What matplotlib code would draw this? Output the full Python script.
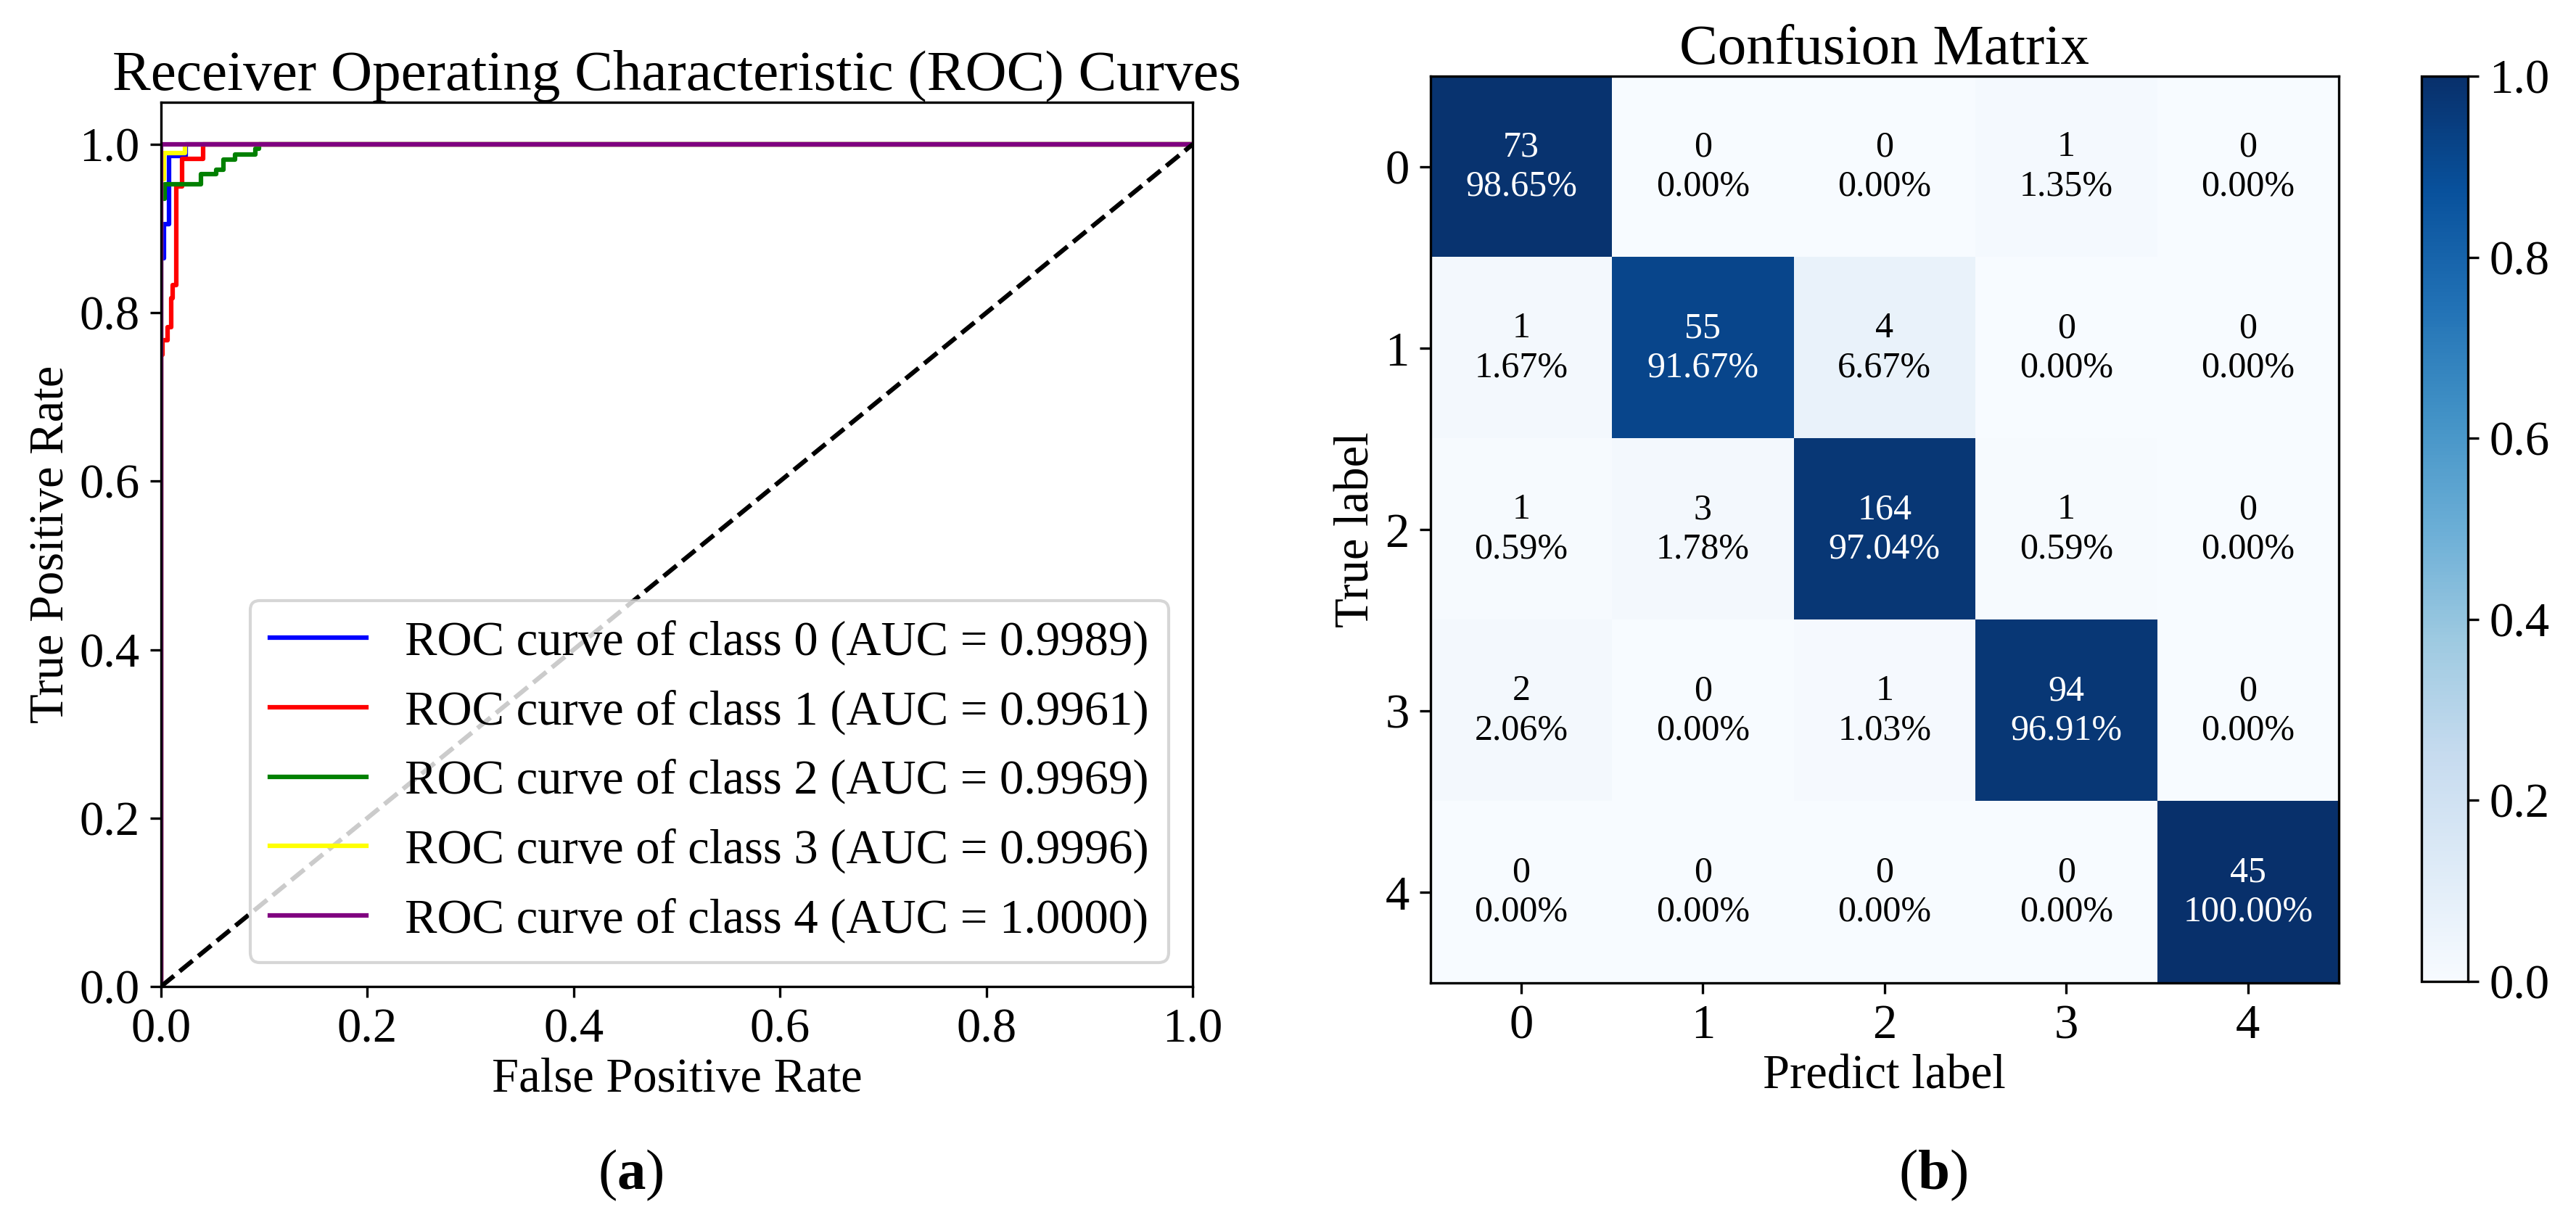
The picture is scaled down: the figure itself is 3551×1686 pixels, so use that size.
import matplotlib
matplotlib.use("Agg")
import matplotlib.pyplot as plt
import numpy as np

plt.rcParams['font.family'] = ['Liberation Serif', 'DejaVu Serif']
plt.rcParams['mathtext.fontset'] = 'custom'
plt.rcParams['mathtext.rm'] = 'Liberation Serif'
plt.rcParams['mathtext.bf'] = 'Liberation Serif:bold'

# ------------------------------------------------------------------
# ROC data
fpr_0 = [0.0, 0.0, 0.0027, 0.0027, 0.0081, 0.0081, 0.0243, 0.0243, 1.0]
tpr_0 = [0.0, 0.865, 0.865, 0.905, 0.905, 0.986, 0.986, 1.0, 1.0]

fpr_1 = [0.0, 0.0, 0.0016, 0.0016, 0.0065, 0.0065, 0.0096, 0.0096, 0.0115, 0.0115,
         0.015, 0.015, 0.0203, 0.0203, 0.041, 0.041, 1.0]
tpr_1 = [0.0, 0.75, 0.75, 0.767, 0.767, 0.783, 0.783, 0.817, 0.817, 0.833,
         0.833, 0.95, 0.95, 0.983, 0.983, 1.0, 1.0]

fpr_2 = [0.0, 0.0, 0.0036, 0.0036, 0.0390, 0.0390, 0.0535, 0.0535, 0.0607, 0.0607,
         0.0717, 0.0717, 0.0912, 0.0912, 0.0947, 0.0947, 1.0]
tpr_2 = [0.0, 0.935, 0.935, 0.953, 0.953, 0.965, 0.965, 0.970, 0.970, 0.982,
         0.982, 0.988, 0.988, 0.995, 0.995, 1.0, 1.0]

fpr_3 = [0.0, 0.0, 0.0029, 0.0029, 0.0230, 0.0230, 1.0]
tpr_3 = [0.0, 0.959, 0.959, 0.990, 0.990, 1.0, 1.0]

fpr_4 = [0.0, 0.0, 1.0]
tpr_4 = [0.0, 1.0, 1.0]

roc_fpr = [fpr_0, fpr_1, fpr_2, fpr_3, fpr_4]
roc_tpr = [tpr_0, tpr_1, tpr_2, tpr_3, tpr_4]
roc_auc = [0.9989, 0.9961, 0.9969, 0.9996, 1.0000]
roc_colors = ['blue', 'red', 'green', 'yellow', 'purple']

# Confusion matrix counts
class_names = ['0', '1', '2', '3', '4']
cm_counts = np.array([
    [73, 0, 0, 1, 0],
    [1, 55, 4, 0, 0],
    [1, 3, 164, 1, 0],
    [2, 0, 1, 94, 0],
    [0, 0, 0, 0, 45],
])

# ------------------------------------------------------------------
fig = plt.figure(figsize=(3551 / 300, 1686 / 300), dpi=300)

# (a) ROC curves
ax1 = fig.add_axes([0.0625, 0.1934, 0.4005, 0.7230])
for i in range(len(roc_fpr)):
    ax1.plot(roc_fpr[i], roc_tpr[i], color=roc_colors[i], lw=1.5,
             label='ROC curve of class {0} (AUC = {1:0.4f})'.format(i, roc_auc[i]))
ax1.plot([0, 1], [0, 1], 'k--', lw=1.5)
ax1.set_xlim([0.0, 1.0])
ax1.set_ylim([0.0, 1.05])
ax1.set_xticks(np.arange(0, 1.01, 0.2))
ax1.set_yticks(np.arange(0, 1.01, 0.2))
ax1.tick_params(labelsize=16)
ax1.set_xlabel('False Positive Rate', fontsize=16, labelpad=2)
ax1.set_ylabel('True Positive Rate', fontsize=16, labelpad=2)
ax1.set_title('Receiver Operating Characteristic (ROC) Curves', fontsize=19, pad=4)
ax1.legend(loc='lower right', fontsize=16)

# (b) confusion matrix
cm_norm = cm_counts / cm_counts.sum(axis=1, keepdims=True)
ax2 = fig.add_axes([0.5553, 0.1963, 0.3526, 0.7414])
im = ax2.imshow(cm_norm, interpolation='nearest', cmap=plt.cm.Blues, vmin=0, vmax=1,
                aspect='auto')
ax2.set_title('Confusion Matrix', fontsize=19, pad=4)
ax2.set_xticks(range(len(class_names)))
ax2.set_yticks(range(len(class_names)))
ax2.set_xticklabels(class_names)
ax2.set_yticklabels(class_names)
ax2.tick_params(labelsize=16)
ax2.set_xlabel('Predict label', fontsize=16, labelpad=2)
ax2.set_ylabel('True label', fontsize=16, labelpad=2)

thresh = 0.5
for i in range(cm_counts.shape[0]):
    for j in range(cm_counts.shape[1]):
        ax2.text(j, i, '{}\n{:.2f}%'.format(cm_counts[i, j], cm_norm[i, j] * 100),
                 ha='center', va='center', fontsize=12,
                 color='white' if cm_norm[i, j] > thresh else 'black')

cax = fig.add_axes([0.9400, 0.1975, 0.0180, 0.7400])
cb = fig.colorbar(im, cax=cax)
cb.set_ticks(np.arange(0, 1.01, 0.2))
cb.ax.tick_params(labelsize=16)

# sub-figure labels
fig.text(869 / 3551, 1 - 1620 / 1686, r'($\mathbf{a}$)', ha='center', va='center', fontsize=19)
fig.text(2665 / 3551, 1 - 1620 / 1686, r'($\mathbf{b}$)', ha='center', va='center', fontsize=19)

fig.savefig('out.png', dpi=300)
